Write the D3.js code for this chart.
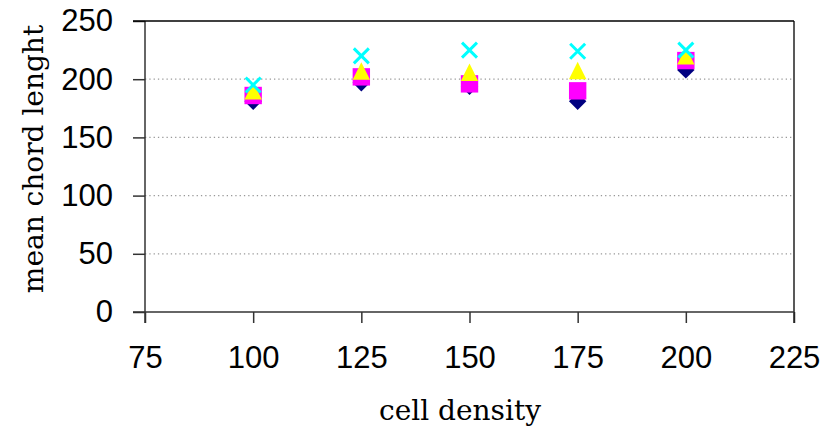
<!DOCTYPE html>
<html>
<head>
<meta charset="utf-8">
<script src="https://cdn.jsdelivr.net/npm/d3@7"></script>
<style>
	body { margin: 0; background: #fff; }
	svg { display: block; }
</style>
</head>
<body>
<div id="chart"></div>
<script>
//	Values
var density = [100, 125, 150, 175, 200];
var diamondVals = [181, 197, 194, 181, 208];
var squareVals = [186, 202, 196, 190, 216];
var triangleVals = [190, 207, 206, 207.5, 220];
var crossVals = [195, 220, 225, 224, 225];

var xTicks = [75, 100, 125, 150, 175, 200, 225];
var yTicks = [0, 50, 100, 150, 200, 250];
var gridVals = [50, 100, 150, 200];

var W = 826, H = 438;
var pLeft = 145, pRight = 794, pTop = 21, pBottom = 312;

var x = d3.scaleLinear().domain([75, 225]).range([pLeft, pRight]);
var y = d3.scaleLinear().domain([0, 250]).range([pBottom, pTop]);

var svg = d3.select("#chart")
	.append("svg")
	.attr("width", W)
	.attr("height", H);

//	Dotted grid
svg.append("g")
	.selectAll("line")
	.data(gridVals)
	.join("line")
	.attr("x1", pLeft)
	.attr("x2", pRight)
	.attr("y1", function(d) { return y(d); })
	.attr("y2", function(d) { return y(d); })
	.attr("stroke", "#999")
	.attr("stroke-width", 1.2)
	.attr("stroke-dasharray", "1.3,3");

//	Axes
var yAxis = svg.append("g")
	.attr("transform", "translate(" + pLeft + ",0)")
	.call(d3.axisLeft(y).tickValues(yTicks).tickSize(12).tickSizeOuter(0).tickPadding(20));

var xAxis = svg.append("g")
	.attr("transform", "translate(0," + pBottom + ")")
	.call(d3.axisBottom(x).tickValues(xTicks).tickSize(11).tickSizeOuter(0).tickPadding(23));

[yAxis, xAxis].forEach(function(g) {
	g.select(".domain").remove();
	g.selectAll(".tick line").attr("stroke", "#333").attr("stroke-width", 1.5);
	g.selectAll(".tick text")
		.attr("fill", "#000")
		.style("font-family", "'Liberation Sans', Arial, sans-serif")
		.style("font-size", "31px");
});

//	Frame
svg.append("line")
	.attr("x1", pLeft).attr("x2", pLeft)
	.attr("y1", pTop).attr("y2", pBottom + 11)
	.attr("stroke", "#333").attr("stroke-width", 1.5);
svg.append("line")
	.attr("x1", pRight).attr("x2", pRight)
	.attr("y1", pTop).attr("y2", pBottom + 11)
	.attr("stroke", "#222").attr("stroke-width", 1.5);
svg.append("line")
	.attr("x1", pLeft - 12).attr("x2", pRight)
	.attr("y1", pTop).attr("y2", pTop)
	.attr("stroke", "#000").attr("stroke-width", 1.5);
svg.append("line")
	.attr("x1", pLeft - 12).attr("x2", pRight)
	.attr("y1", pBottom).attr("y2", pBottom)
	.attr("stroke", "#333").attr("stroke-width", 1.5);

//	Marker shapes
var r = 8.7;
var diamondShape = { draw: function(c) {
	c.moveTo(0, -r); c.lineTo(r, 0); c.lineTo(0, r); c.lineTo(-r, 0); c.closePath();
}};
var squareShape = { draw: function(c) {
	c.rect(-r, -r, 2 * r, 2 * r);
}};
var triangleShape = { draw: function(c) {
	c.moveTo(0, -r); c.lineTo(r, r); c.lineTo(-r, r); c.closePath();
}};
var xr = 7.5;
var crossShape = { draw: function(c) {
	c.moveTo(-xr, -xr); c.lineTo(xr, xr);
	c.moveTo(xr, -xr); c.lineTo(-xr, xr);
}};

function series(vals, shape, fill, stroke) {
	svg.append("g")
		.selectAll("path")
		.data(vals)
		.join("path")
		.attr("transform", function(d, i) { return "translate(" + x(density[i]) + "," + y(d) + ")"; })
		.attr("d", d3.symbol().type(shape))
		.attr("fill", fill)
		.attr("stroke", stroke || "none")
		.attr("stroke-width", stroke ? 3 : 0);
}

series(diamondVals, diamondShape, "#000080");
series(squareVals, squareShape, "#ff00ff");
series(triangleVals, triangleShape, "#ffff00");
series(crossVals, crossShape, "none", "#00ffff");

//	Axis titles
svg.append("text")
	.attr("x", 460)
	.attr("y", 420)
	.attr("text-anchor", "middle")
	.style("font-family", "'DejaVu Serif', serif")
	.style("font-size", "28px")
	.text("cell density");

svg.append("text")
	.attr("transform", "translate(43,159) rotate(-90)")
	.attr("text-anchor", "middle")
	.style("font-family", "'DejaVu Serif', serif")
	.style("font-size", "28px")
	.text("mean chord lenght");
</script>
</body>
</html>
